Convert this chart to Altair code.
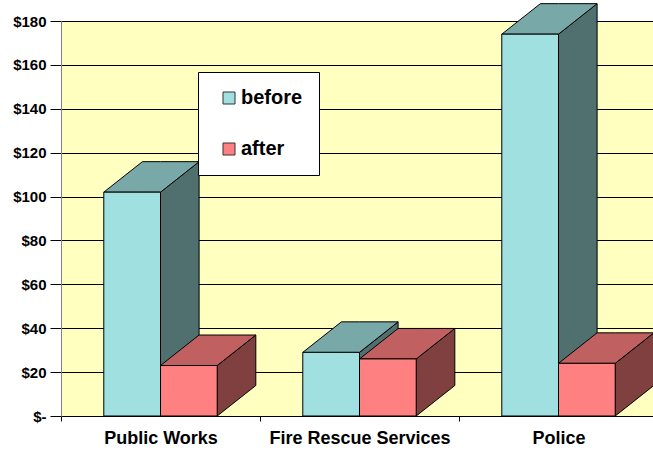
import json

import altair as alt
import pandas as pd

# Spending per department, before and after
categories = ["Public Works", "Fire Rescue Services", "Police"]
series = ["before", "after"]
before = [102, 29, 174]
after = [23, 26, 24]

front_colors = ["#a0e0e0", "#ff8080"]
top_colors = ["#78a8a8", "#c06060"]
side_colors = ["#507070", "#804040"]

# Geometry of the 3-D columns (x in category units, y in dollars)
BAR_W = 0.285
DEPTH_X = 0.194
DEPTH_Y = 13.9
X_MAX = 592 / 199

fronts, tops, sides = [], [], []
for si, (name, vals) in enumerate(zip(series, [before, after])):
    for ci, (cat, v) in enumerate(zip(categories, vals)):
        center = ci + 0.5
        x0 = center - BAR_W if si == 0 else center
        x1 = x0 + BAR_W
        fronts.append(dict(series=name, cat=cat, x0=x0, x1=x1, v=v, base=0))
        face = f"{name}|{cat}"
        # right-hand face: parallelogram receding up and to the right
        sides.append(dict(series=name, face=face, x=x1, lo=0, hi=v,
                          shade=side_colors[si]))
        sides.append(dict(series=name, face=face, x=x1 + DEPTH_X,
                          lo=DEPTH_Y, hi=v + DEPTH_Y, shade=side_colors[si]))
        # top face (points in increasing x)
        for x, lo, hi in [
            (x0, v, v),
            (x0 + DEPTH_X, v, v + DEPTH_Y),
            (x1, v, v + DEPTH_Y),
            (x1 + DEPTH_X, v + DEPTH_Y, v + DEPTH_Y),
        ]:
            tops.append(dict(series=name, face=face, x=x, lo=lo, hi=hi,
                             shade=top_colors[si]))

fronts = pd.DataFrame(fronts)
tops = pd.DataFrame(tops)
sides = pd.DataFrame(sides)

FONT = "Liberation Sans"

x_scale = alt.Scale(domain=[0, X_MAX], nice=False, zero=False)
y_scale = alt.Scale(domain=[0, 180], nice=False)

x_axis = alt.Axis(
    title=None,
    values=[0, 0.5, 1, 1.5, 2, 2.5],
    grid=False,
    tickSize=5,
    tickColor="black",
    tickOpacity={"condition": {"test": "datum.value % 1 !== 0", "value": 0}, "value": 1},
    domainColor="black",
    labelExpr=f"datum.value % 1 ? {json.dumps(categories)}[floor(datum.value)] : ''",
    labelFont=FONT,
    labelFontSize=18,
    labelFontWeight="bold",
    labelColor="black",
    labelPadding=8,
    labelAngle=0,
    labelAlign="center",
    labelLimit=0,
    labelFlush=False,
    labelOverlap=False,
    labelBound=False,
)

y_axis = alt.Axis(
    title=None,
    values=list(range(0, 181, 20)),
    grid=True,
    gridColor="black",
    gridWidth=1,
    tickSize=11,
    tickColor="black",
    domainColor="#808080",
    labelExpr="datum.value == 0 ? '$-' : '$' + datum.value",
    labelFont=FONT,
    labelFontSize=15,
    labelFontWeight="bold",
    labelColor="black",
    labelPadding=4,
    labelOverlap=False,
)


def face_layer(df, name):
    return (
        alt.Chart(df[df.series == name])
        .mark_area(stroke="black", strokeWidth=1, interpolate="linear",
                   orient="vertical", opacity=1)
        .encode(
            x=alt.X("x:Q", scale=x_scale, axis=x_axis),
            y=alt.Y("lo:Q", scale=y_scale, axis=y_axis),
            y2="hi:Q",
            detail="face:N",
            fill=alt.Fill("shade:N", scale=None),
        )
    )


def front_layer(name):
    return (
        alt.Chart(fronts[fronts.series == name])
        .mark_rect(stroke="black", strokeWidth=1)
        .encode(
            x=alt.X("x0:Q", scale=x_scale, axis=x_axis),
            x2="x1:Q",
            y=alt.Y("v:Q", scale=y_scale, axis=y_axis),
            y2="base:Q",
            color=alt.Color(
                "series:N",
                scale=alt.Scale(domain=series, range=front_colors),
                legend=alt.Legend(
                    title=None,
                    orient="none",
                    legendX=137,
                    legendY=51,
                    fillColor="white",
                    strokeColor="black",
                    padding=16,
                    symbolType="square",
                    symbolSize=144,
                    symbolStrokeColor="#333333",
                    symbolStrokeWidth=1,
                    symbolOffset=5,
                    labelOffset=2,
                    labelExpr="datum.label + '\u00a0\u00a0'",
                    labelFont=FONT,
                    labelFontSize=20,
                    labelFontWeight="bold",
                    labelColor="black",
                    labelLimit=0,
                    rowPadding=31,
                ),
            ),
        )
    )


layers = []
for name in series:
    layers += [face_layer(sides, name), face_layer(tops, name), front_layer(name)]

chart = (
    alt.layer(*layers)
    .properties(
        width=592,
        height=395,
        autosize=alt.AutoSizeParams(type="none"),
        padding={"left": 61, "top": 21, "right": 0, "bottom": 40},
        background="white",
    )
    .configure_view(fill="#ffffc0", stroke=None)
)

chart.save("out.html", embed_options={"renderer": "svg", "actions": False})
